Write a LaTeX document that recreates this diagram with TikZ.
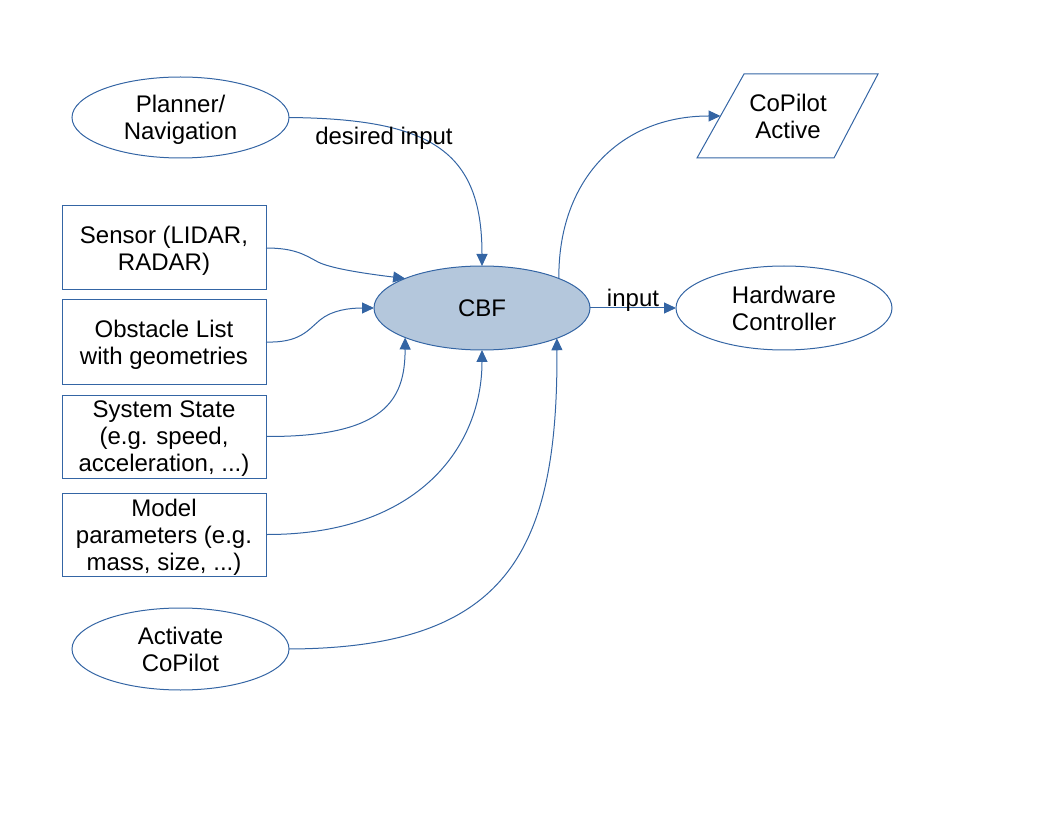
\documentclass[tikz,border=0pt]{standalone}
\usepackage{fontspec}
\setmainfont{Liberation Sans}
\usetikzlibrary{shapes.geometric,arrows.meta}
\definecolor{lo}{HTML}{3465A4}
\definecolor{lofill}{HTML}{B4C7DC}
\begin{document}
\begin{tikzpicture}[x=0.75pt,y=-0.75pt,
  every node/.style={font=\fontsize{18}{20.3}\selectfont, align=center, inner sep=0pt, outer sep=0pt},
  ell/.style={ellipse, draw=lo, line width=0.75pt, minimum width=162pt, minimum height=63pt, text depth=0pt},
  box/.style={rectangle, draw=lo, line width=0.75pt, minimum width=153pt, minimum height=63pt, text depth=0pt},
  conn/.style={draw=lo, line width=0.75pt, -{Triangle[length=9pt,width=8.25pt]}},
  shapeline/.style={draw=lo, line width=0.75pt}]
\useasboundingbox (0,0) rectangle (1056,816);
% left side
\node[ell, minimum width=162.75pt, minimum height=60.75pt] (plan) at (180.5,117.5) {Planner/\\Navigation};
\node[box] (sens) at (164,248) {Sensor (LIDAR,\\RADAR)};
\node[box] (obs) at (164,342) {Obstacle List\\with geometries};
\node[box, minimum height=62.25pt] (sys) at (164,436.5) {System State\\(e.g. speed,\\acceleration, ...)};
\node[box, minimum height=62.25pt] (mod) at (164,534.5) {Model\\parameters (e.g.\\mass, size, ...)};
\node[ell, minimum width=162.75pt, minimum height=61.5pt] (actv) at (180.5,649) {Activate\\CoPilot};
% centre
\node[ell, fill=lofill] (cbf) at (482,308) {CBF};
% right side
\node[ell] (hw) at (784,308) {Hardware\\Controller};
\draw[shapeline] (744,74) -- (878,74) -- (834,158) -- (697,158) -- cycle;
\node[text depth=0pt] (act) at (788,116) {CoPilot\\Active};
\coordinate (actin) at (720.5,116);
% connectors
\draw[conn] (plan.east) .. controls (430,119) and (482,150) .. (cbf.north);
\node[anchor=base] (lbldes) at (384,145) {desired input};
\draw[conn] (sens.east) .. controls (295,248) and (305,255) .. (318,262) .. controls (330,268) and (360,273) .. (cbf.159);
\draw[conn] (obs.east) .. controls (300,343) and (308,330) .. (320,320) .. controls (332,310) and (350,308) .. (cbf.west);
\draw[conn] (sys.east) .. controls (385,437) and (405,400) .. (cbf.201);
\draw[conn] (mod.east) .. controls (420,535) and (482,445) .. (cbf.south);
\draw[conn] (actv.east) .. controls (505,648) and (558,555) .. (cbf.338.5);
\draw[conn] (cbf.21.5) .. controls (558,180) and (620,116) .. (actin);
\draw[conn] (cbf.east) -- (hw.west);
\node[anchor=base] (lblin) at (633,307) {input};
\end{tikzpicture}
\end{document}
